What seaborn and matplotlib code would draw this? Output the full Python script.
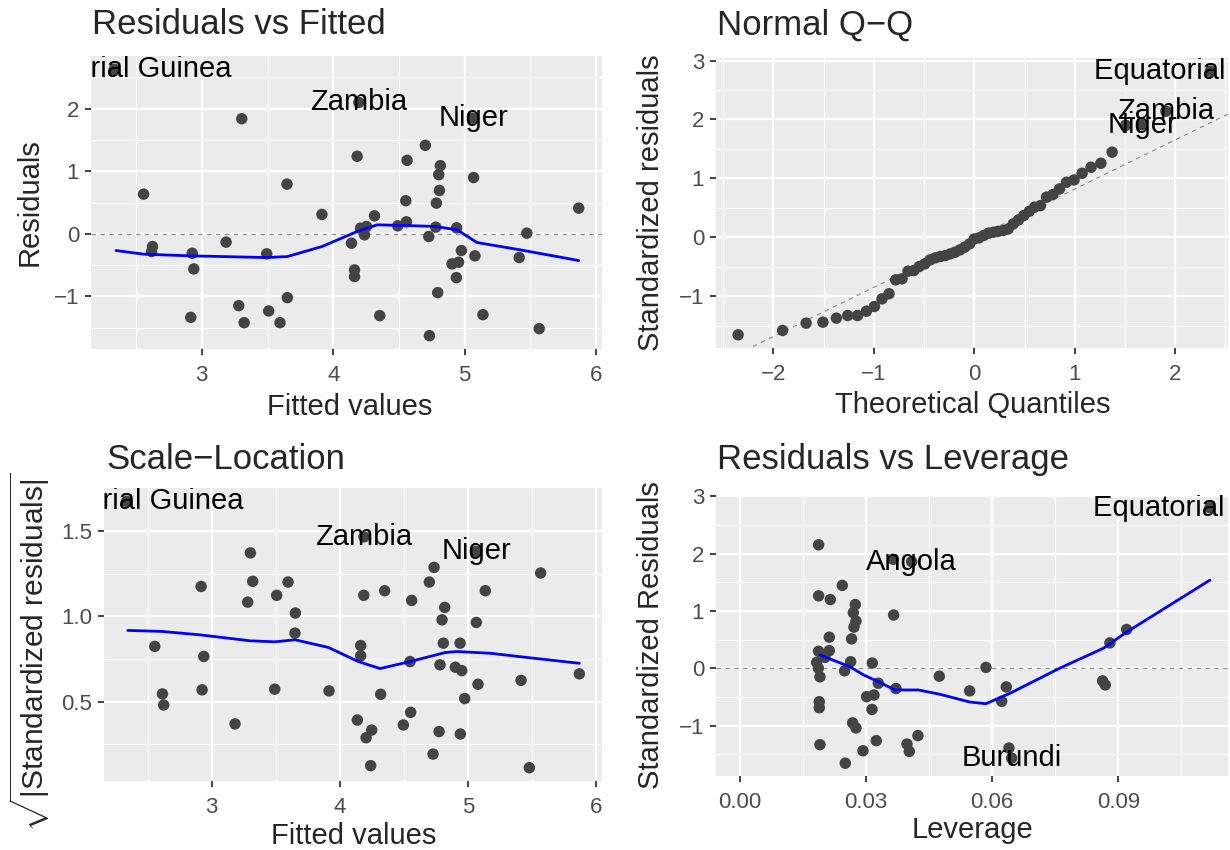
import matplotlib
matplotlib.use("Agg")
import matplotlib.pyplot as plt
import seaborn as sns
import pandas as pd

# ---------------- data ----------------
# Panel 1: Residuals vs Fitted
rf_fitted = [2.334, 4.195, 3.304, 5.068, 4.701, 4.182, 4.562, 4.815, 4.803, 5.068,
             2.557, 3.648, 4.808, 4.552, 4.785, 5.868, 3.914, 4.314, 4.208, 4.253,
             4.491, 4.557, 4.780, 4.939, 5.473, 4.238, 4.727, 2.625, 2.618, 2.927,
             3.185, 3.494, 4.139, 4.975, 2.939, 5.078, 5.415, 4.162, 4.162, 4.904,
             4.954, 4.937, 3.651, 4.795, 3.281, 3.509, 2.916, 3.322, 3.595, 4.354,
             5.139, 4.732, 5.567]
rf_resid = [2.63, 2.10, 1.84, 1.85, 1.415, 1.24, 1.175, 1.09, 0.945, 0.90,
            0.635, 0.795, 0.694, 0.529, 0.491, 0.411, 0.31, 0.288, 0.091, 0.117,
            0.128, 0.192, 0.107, 0.096, 0.011, -0.016, -0.043, -0.203, -0.283, -0.31,
            -0.133, -0.32, -0.15, -0.267, -0.561, -0.352, -0.379, -0.577, -0.683, -0.48,
            -0.454, -0.70, -1.02, -0.94, -1.148, -1.233, -1.335, -1.42, -1.42, -1.308,
            -1.292, -1.628, -1.516]
rf_smooth_x = [2.347, 2.562, 2.916, 3.494, 3.651, 3.914, 4.182, 4.334, 4.562, 4.780,
               4.942, 5.094, 5.423, 5.868]
rf_smooth_y = [-0.267, -0.326, -0.352, -0.379, -0.363, -0.203, 0.037, 0.144, 0.133, 0.117,
               0.064, -0.139, -0.256, -0.427]
rf_label_idx = [0, 1, 3]
rf_label_txt = ["Equatorial Guinea", "Zambia", "Niger"]

# Panel 2: Normal Q-Q
qq_theoretical = [-2.350, -1.907, -1.673, -1.506, -1.372, -1.260, -1.162, -1.073, -0.993,
                  -0.918, -0.848, -0.782, -0.719, -0.659, -0.601, -0.547, -0.493, -0.440,
                  -0.388, -0.337, -0.287, -0.238, -0.190, -0.142, -0.095, -0.047, 0.000,
                  0.047, 0.095, 0.142, 0.190, 0.238, 0.287, 0.337, 0.388, 0.440, 0.493,
                  0.547, 0.601, 0.659, 0.719, 0.782, 0.848, 0.918, 0.993, 1.073, 1.162,
                  1.260, 1.372, 1.506, 1.673, 1.907, 2.350]
qq_sample = [-1.658, -1.584, -1.46, -1.443, -1.375, -1.33, -1.33, -1.256, -1.177, -1.047,
             -0.96, -0.724, -0.707, -0.577, -0.566, -0.498, -0.453, -0.385, -0.351, -0.328,
             -0.311, -0.283, -0.255, -0.215, -0.17, -0.113, -0.03, -0.011, 0.03, 0.068,
             0.085, 0.10, 0.113, 0.14, 0.226, 0.294, 0.368, 0.44, 0.51, 0.537,
             0.68, 0.724, 0.82, 0.934, 0.973, 1.086, 1.188, 1.256, 1.445, 1.90,
             1.91, 2.14, 2.82]
qq_ref_x = [-2.60, 2.60]
qq_ref_y = [-2.188, 2.154]
qq_label_idx = [52, 51, 50]
qq_label_txt = ["Equatorial Guinea", "Zambia", "Niger"]

# Panel 3: Scale-Location
sl_fitted = [2.336, 4.189, 3.302, 5.069, 4.736, 5.568, 2.917, 3.320, 3.596, 4.699,
             4.187, 4.350, 5.136, 3.281, 3.507, 4.561, 4.819, 4.798, 3.653, 5.066,
             3.650, 2.555, 4.808, 4.939, 4.163, 2.938, 4.163, 4.548, 4.782, 4.902,
             4.952, 5.415, 5.870, 5.079, 2.615, 2.625, 2.925, 3.492, 3.916, 4.319,
             4.975, 4.553, 3.182, 4.137, 4.249, 4.205, 4.496, 4.775, 4.941, 4.728,
             4.241, 5.480]
sl_sqrt_std = [1.676, 1.467, 1.373, 1.382, 1.288, 1.255, 1.176, 1.206, 1.202, 1.202,
               1.124, 1.151, 1.151, 1.084, 1.124, 1.094, 1.053, 0.980, 1.020, 0.965,
               0.902, 0.824, 0.843, 0.843, 0.829, 0.765, 0.769, 0.735, 0.716, 0.702,
               0.682, 0.625, 0.663, 0.602, 0.545, 0.480, 0.569, 0.573, 0.563, 0.543,
               0.518, 0.437, 0.369, 0.392, 0.333, 0.288, 0.363, 0.324, 0.310, 0.192,
               0.124, 0.112]
sl_smooth_x = [2.344, 2.610, 2.909, 3.299, 3.494, 3.651, 3.911, 4.145, 4.314, 4.548,
               4.822, 4.913, 5.173, 5.511, 5.870]
sl_smooth_y = [0.918, 0.912, 0.892, 0.857, 0.851, 0.863, 0.818, 0.735, 0.694, 0.735,
               0.788, 0.794, 0.784, 0.755, 0.725]
sl_label_idx = [0, 1, 3]
sl_label_txt = ["Equatorial Guinea", "Zambia", "Niger"]

# Panel 4: Residuals vs Leverage
lv_leverage = [0.1118, 0.01871, 0.03648, 0.04084, 0.02434, 0.01871, 0.02149, 0.02744, 0.02696, 0.03656,
               0.02760, 0.02712, 0.02125, 0.02656, 0.09198, 0.08800, 0.01871, 0.02125, 0.02022, 0.01824,
               0.02633, 0.03148, 0.01863, 0.05852, 0.02490, 0.01903, 0.04742, 0.03291, 0.03711, 0.05464,
               0.06336, 0.08627, 0.08690, 0.03013, 0.03188, 0.06225, 0.01887, 0.01887, 0.03140, 0.02680,
               0.02760, 0.01903, 0.03243, 0.04234, 0.03973, 0.04028, 0.02926, 0.02506, 0.06399, 0.06463]
lv_std_resid = [2.80, 2.155, 1.903, 1.862, 1.447, 1.265, 1.20, 1.113, 0.972, 0.931,
                0.826, 0.72, 0.545, 0.515, 0.679, 0.445, 0.299, 0.31, 0.193, 0.105,
                0.117, 0.094, 0.006, 0.018, -0.041, -0.146, -0.135, -0.258, -0.351, -0.392,
                -0.322, -0.217, -0.287, -0.492, -0.463, -0.574, -0.58, -0.685, -0.714, -0.949,
                -1.037, -1.329, -1.259, -1.171, -1.318, -1.447, -1.435, -1.652, -1.388, -1.564]
lv_smooth_x = [0.01903, 0.02617, 0.02934, 0.03251, 0.03687, 0.04242, 0.04758, 0.05471, 0.05852,
               0.06423, 0.07612, 0.08643, 0.09198, 0.1118]
lv_smooth_y = [0.234, 0.029, -0.111, -0.217, -0.375, -0.375, -0.451, -0.586, -0.615,
               -0.433, 0.006, 0.351, 0.633, 1.54]
lv_label_idx = [0, 3, 49]
lv_label_txt = ["Equatorial Guinea", "Angola", "Burundi"]

# ---------------- styling ----------------
sns.set_theme(style="darkgrid")
plt.rcParams['font.family'] = ['Liberation Sans', 'DejaVu Sans']
plt.rcParams['mathtext.fontset'] = 'custom'
plt.rcParams['mathtext.rm'] = 'Liberation Sans'
plt.rcParams['mathtext.it'] = 'Liberation Sans:italic'
plt.rcParams['mathtext.bf'] = 'Liberation Sans:bold'
plt.rcParams['axes.unicode_minus'] = True

W, H = 1230, 850
fig = plt.figure(figsize=(W / 100, H / 100), dpi=100)
fig.patch.set_facecolor('white')


def make_ax(left, top, right, bottom):
    return fig.add_axes([left / W, 1 - bottom / H, (right - left) / W, (bottom - top) / H])


PT_COL = '#444444'
PT_S = 68
LINE_W = 2.0
TICK_FS = 16
LAB_FS = 21
TITLE_FS = 25
ANN_FS = 21


def style(ax, xmaj, xmin, ymaj, ymin, xlim, ylim, xfmt, yfmt):
    ax.set_facecolor('#EBEBEB')
    for s in ax.spines.values():
        s.set_visible(False)
    ax.set_xlim(*xlim)
    ax.set_ylim(*ylim)
    ax.set_xticks(xmaj)
    ax.set_xticks(xmin, minor=True)
    ax.set_yticks(ymaj)
    ax.set_yticks(ymin, minor=True)
    ax.set_xticklabels([xfmt(v) for v in xmaj])
    ax.set_yticklabels([yfmt(v) for v in ymaj])
    ax.grid(which='major', color='white', lw=1.6)
    ax.grid(which='minor', color='white', lw=0.8)
    ax.tick_params(which='minor', length=0)
    ax.tick_params(which='major', length=4.5, width=1.3, color='#333333',
                   labelsize=TICK_FS, labelcolor='#4D4D4D',
                   bottom=True, left=True)
    ax.tick_params(axis='x', which='major', pad=7)
    ax.tick_params(axis='y', which='major', pad=4)
    ax.set_axisbelow(True)
    ax.set_xlabel('')
    ax.set_ylabel('')


def fint(v):
    return f"{int(round(v))}".replace('-', '\u2212')


def f1(v):
    return f"{v:.1f}"


def f2(v):
    return f"{v:.2f}"


def labels(ax, xs, ys, idx, txt):
    for i, t in zip(idx, txt):
        ax.text(xs[i], ys[i], t, ha='center', va='center', fontsize=ANN_FS,
                color='black', clip_on=True, zorder=5)


# Panel 1
ax1 = make_ax(91, 56, 602, 349)
d1 = pd.DataFrame({'x': rf_fitted, 'y': rf_resid})
ax1.axhline(0, color='#888888', lw=0.8, ls=(0, (4, 4)), zorder=1)
sns.scatterplot(data=d1, x='x', y='y', ax=ax1, color=PT_COL, s=PT_S, edgecolor='none', zorder=3)
sns.lineplot(x=rf_smooth_x, y=rf_smooth_y, ax=ax1, color='#0000FF', lw=LINE_W, zorder=4)
style(ax1, [3, 4, 5, 6], [2.5, 3.5, 4.5, 5.5], [-1, 0, 1, 2], [-1.5, -0.5, 0.5, 1.5, 2.5],
      (2.157, 6.045), (-1.841, 2.843), fint, fint)
labels(ax1, rf_fitted, rf_resid, rf_label_idx, rf_label_txt)

# Panel 2
ax2 = make_ax(716, 58, 1228, 348)
d2 = pd.DataFrame({'x': qq_theoretical, 'y': qq_sample})
sns.lineplot(x=qq_ref_x, y=qq_ref_y, ax=ax2, color='#888888', lw=0.8, zorder=2)
ax2.lines[-1].set_linestyle((0, (4, 4)))
sns.scatterplot(data=d2, x='x', y='y', ax=ax2, color=PT_COL, s=PT_S, edgecolor='none', zorder=3)
style(ax2, [-2, -1, 0, 1, 2], [-2.5, -1.5, -0.5, 0.5, 1.5, 2.5], [-1, 0, 1, 2, 3],
      [-1.5, -0.5, 0.5, 1.5, 2.5], (-2.57, 2.525), (-1.882, 3.044), fint, fint)
labels(ax2, qq_theoretical, qq_sample, qq_label_idx, qq_label_txt)

# Panel 3
ax3 = make_ax(104, 488, 602, 781)
d3 = pd.DataFrame({'x': sl_fitted, 'y': sl_sqrt_std})
sns.scatterplot(data=d3, x='x', y='y', ax=ax3, color=PT_COL, s=PT_S, edgecolor='none', zorder=3)
sns.lineplot(x=sl_smooth_x, y=sl_smooth_y, ax=ax3, color='#0000FF', lw=LINE_W, zorder=4)
style(ax3, [3, 4, 5, 6], [2.5, 3.5, 4.5, 5.5], [0.5, 1.0, 1.5], [0.25, 0.75, 1.25],
      (2.159, 6.047), (0.034, 1.754), fint, f1)
labels(ax3, sl_fitted, sl_sqrt_std, sl_label_idx, sl_label_txt)

# Panel 4
ax4 = make_ax(716, 495, 1228, 776)
d4 = pd.DataFrame({'x': lv_leverage, 'y': lv_std_resid})
ax4.axhline(0, color='#888888', lw=0.8, ls=(0, (4, 4)), zorder=1)
sns.scatterplot(data=d4, x='x', y='y', ax=ax4, color=PT_COL, s=PT_S, edgecolor='none', zorder=3)
sns.lineplot(x=lv_smooth_x, y=lv_smooth_y, ax=ax4, color='#0000FF', lw=LINE_W, zorder=4)
style(ax4, [0.0, 0.03, 0.06, 0.09], [0.015, 0.045, 0.075, 0.105], [-1, 0, 1, 2, 3],
      [-1.5, -0.5, 0.5, 1.5, 2.5], (-0.0057, 0.1161), (-1.875, 3.023), f2, fint)
labels(ax4, lv_leverage, lv_std_resid, lv_label_idx, lv_label_txt)


def ftext(x, y, s, **kw):
    fig.text(x / W, 1 - y / H, s, **kw)


# titles
ftext(92, 25, "Residuals vs Fitted", fontsize=TITLE_FS, va='center', ha='left')
ftext(717, 25, "Normal Q\u2212Q", fontsize=TITLE_FS, va='center', ha='left')
ftext(106, 459, "Scale\u2212Location", fontsize=TITLE_FS, va='center', ha='left')
ftext(717, 459, "Residuals vs Leverage", fontsize=TITLE_FS, va='center', ha='left')

# axis titles
ftext(350, 407, "Fitted values", fontsize=LAB_FS, va='center', ha='center')
ftext(973, 405, "Theoretical Quantiles", fontsize=LAB_FS, va='center', ha='center')
ftext(354, 836, "Fitted values", fontsize=LAB_FS, va='center', ha='center')
ftext(972, 830, "Leverage", fontsize=LAB_FS, va='center', ha='center')
ftext(30, 202, "Residuals", fontsize=LAB_FS, va='center', ha='center', rotation=90)
ftext(651, 203, "Standardized residuals", fontsize=LAB_FS, va='center', ha='center', rotation=90)
ftext(30, 652, r"$\sqrt{|\mathrm{Standardized\ residuals}|}$", fontsize=LAB_FS + 0.5,
      va='center', ha='center', rotation=90)
ftext(651, 635, "Standardized Residuals", fontsize=LAB_FS, va='center', ha='center', rotation=90)

fig.savefig("out.png", dpi=100, facecolor='white')
